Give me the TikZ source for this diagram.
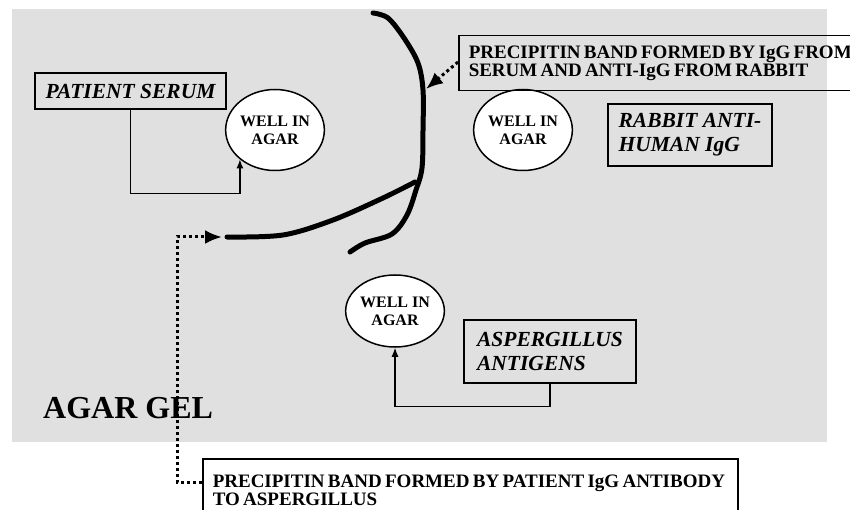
\documentclass[tikz,border=0pt]{standalone}
\usepackage{fontspec}
\setmainfont{Liberation Serif}
\usetikzlibrary{shapes.geometric,arrows.meta,positioning}
\definecolor{agar}{RGB}{224,224,224}

\begin{document}
\begin{tikzpicture}[
    x=1pt, y=-1pt,
    well/.style={ellipse, draw, line width=1.5pt, fill=white, minimum width=96pt, minimum height=81pt, inner sep=0pt, align=center, font=\fontsize{16}{18}\selectfont\bfseries},
    tag/.style={rectangle, draw, line width=1.5pt, inner sep=0pt, align=left, font=\fontsize{21.5}{24}\selectfont\bfseries\itshape},
    note/.style={rectangle, draw, line width=1.5pt, anchor=north west, inner xsep=10pt, inner ysep=0pt, align=left, font=\bfseries},
    band/.style={line width=5pt, line cap=round, line join=round},
    conn/.style={-{Latex[length=9pt,width=7pt]}, line width=1.2pt},
    dotarrow/.style={-{Latex[length=17pt,width=14pt]}, line width=3pt, dash pattern=on 3pt off 3pt}
  ]
  \useasboundingbox (0,0) rectangle (850,510);
  \clip (0,0) rectangle (850,510);
  \fill[agar] (12,9) rectangle (827,442);

  % wells and reagents
  \node[tag, minimum width=191pt, minimum height=36pt] (serum) at (130.5,91) {PATIENT SERUM};
  \node[well] (wellA) at (275,130) {WELL IN\\AGAR};
  \node[well] (wellB) at (523,130) {WELL IN\\AGAR};
  \node[well, minimum height=72pt] (wellC) at (395,311) {WELL IN\\AGAR};
  \node[tag, minimum width=164pt, minimum height=62pt] (rabbit) at (690,135) {RABBIT ANTI-\\HUMAN IgG};
  \node[tag, minimum width=172pt, minimum height=63pt] (asp) at (550,351.5) {ASPERGILLUS\\ANTIGENS};
  \node[font=\fontsize{32}{36}\selectfont\bfseries, anchor=base west, inner sep=0pt] (gel) at (43,418) {AGAR GEL};

  % precipitin bands
  \coordinate (bandtop) at (426,89);
  \coordinate (bandfoot) at (227,237);
  \draw[band] plot[smooth, tension=0.55] coordinates {(373,13) (388,18) (404,38) (418,63) (423,90) (423,130) (422,168) (416,190) (407,215) (392,234) (365,243) (350,252)};
  \draw[band] plot[smooth, tension=0.55] coordinates {(bandfoot) (283,235) (333,220) (383,198) (415,182)};

  % labels
  \node[note, minimum width=412pt, text width=392pt, text height=23pt, text depth=32pt] (bandnote) at (458,35) {\fontsize{19}{24}\selectfont PRECIPITIN BAND FORMED BY IgG FROM\\SERUM AND ANTI-IgG FROM RABBIT};
  \node[note, minimum width=535pt, text width=515pt, text height=29pt, text depth=40pt] (patnote) at (202,458) {\fontsize{19}{20}\selectfont PRECIPITIN BAND FORMED BY PATIENT IgG ANTIBODY\\TO ASPERGILLUS};

  \draw[conn] (serum.south) |- ([yshift=-34pt]wellA.220) -- (wellA.220);
  \draw[conn] (asp.south) |- ([yshift=-59pt]wellC.south) -- (wellC.south);
  \draw[dotarrow] ([yshift=-27pt]bandnote.north west) -- (bandtop);
  \draw[dotarrow] ([yshift=-24pt]patnote.north west) -| ([xshift=-50pt]bandfoot) -- ([xshift=-5pt]bandfoot);
\end{tikzpicture}
\end{document}
